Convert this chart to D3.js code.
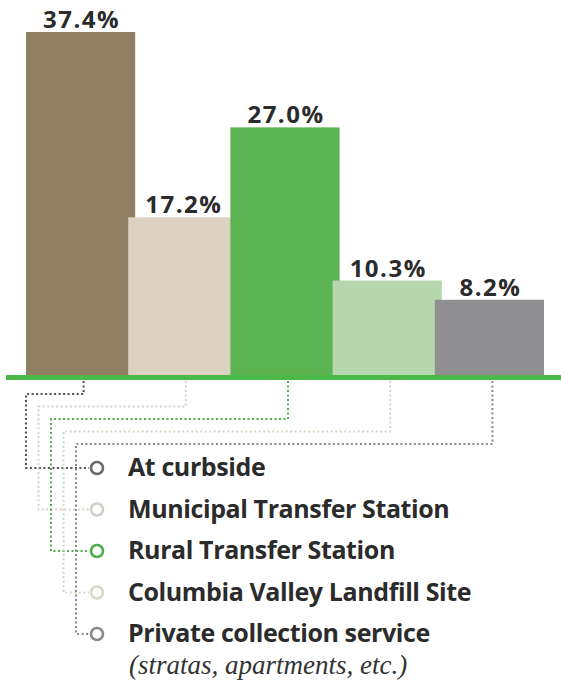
<!DOCTYPE html>
<html>
<head>
<meta charset="utf-8">
<script src="https://cdn.jsdelivr.net/npm/d3@7"></script>
<style>
  html, body { margin: 0; padding: 0; background: #ffffff; }
  svg { display: block; }
</style>
</head>
<body>
<svg id="chart" width="561" height="686"></svg>
<script>
// ---- data ----
const categories = ["At curbside", "Municipal Transfer Station", "Rural Transfer Station", "Columbia Valley Landfill Site", "Private collection service"];
const values = [37.4, 17.2, 27.0, 10.3, 8.2];
const valueLabels = ["37.4%", "17.2%", "27.0%", "10.3%", "8.2%"];
const noteText = "(stratas, apartments, etc.)";

// ---- styles ----
const barColors = ["#8f7f63", "#ddd1c0", "#5cb352", "#b6d6ae", "#8f8f91"];
const dotColors = ["#505050", "#d8d2c8", "#4cae48", "#c9dcc2", "#8a8a8a"];
const ringColors = ["#6a6a6a", "#d2cec6", "#4cae48", "#d3dcc6", "#8a8a8a"];

const svg = d3.select("#chart");
const W = 561;
const baseY = 375;

const x = d3.scaleBand().domain(categories).range([26, 537]).paddingInner(0).paddingOuter(0);
const barW = x.step() + 7;
const y = d3.scaleLinear().domain([0, 37.4]).range([baseY, 32]);

const data = categories.map((c, i) => ({ c, v: values[i], label: valueLabels[i], i }));

// connectors (dotted)
const levelY = d3.scaleLinear().domain([0, 4]).range([394, 444]);
const leftX = d3.scaleLinear().domain([0, 4]).range([26, 76]);
const rowY = d3.scaleLinear().domain([0, 4]).range([468, 634]);
const ringX = 97;

svg.append("g").selectAll("path").data(data).join("path")
  .attr("d", d => {
    const tx = x(d.c) + barW / 2 + 3;
    return `M${tx},381 V${levelY(d.i)} H${leftX(d.i)} V${rowY(d.i)} H${ringX - 8}`;
  })
  .attr("fill", "none")
  .attr("stroke", d => dotColors[d.i])
  .attr("stroke-width", 2)
  .attr("stroke-dasharray", "2,2.5");

// bars
svg.append("g").selectAll("rect").data(data).join("rect")
  .attr("x", d => x(d.c))
  .attr("y", d => y(d.v))
  .attr("width", barW)
  .attr("height", d => baseY - y(d.v))
  .attr("fill", d => barColors[d.i]);

// value labels
svg.append("g").selectAll("text").data(data).join("text")
  .attr("x", d => x(d.c) + barW / 2 + 1)
  .attr("y", d => y(d.v) - 4)
  .attr("text-anchor", "middle")
  .attr("font-family", "'Open Sans', sans-serif")
  .attr("font-weight", 700)
  .attr("font-size", 24)
  .attr("letter-spacing", 1.5)
  .attr("fill", "#2b2b2b")
  .text(d => d.label);

// baseline
svg.append("rect")
  .attr("x", 6).attr("y", baseY)
  .attr("width", W - 6).attr("height", 5)
  .attr("fill", "#4cb848");

// legend rings
svg.append("g").selectAll("circle").data(data).join("circle")
  .attr("cx", ringX)
  .attr("cy", d => rowY(d.i))
  .attr("r", 6)
  .attr("fill", "#ffffff")
  .attr("stroke", d => ringColors[d.i])
  .attr("stroke-width", 2.6);

// legend text
svg.append("g").selectAll("text").data(data).join("text")
  .attr("x", 128)
  .attr("y", d => rowY(d.i) + 8)
  .attr("font-family", "'Open Sans', sans-serif")
  .attr("font-weight", 700)
  .attr("font-size", 25)
  .attr("letter-spacing", -0.4)
  .attr("fill", "#2b2b2b")
  .text(d => d.c);

svg.append("text")
  .attr("x", 129)
  .attr("y", rowY(4) + 40)
  .attr("font-family", "'Liberation Serif', serif")
  .attr("font-style", "italic")
  .attr("font-size", 27)
  .attr("fill", "#333333")
  .text(noteText);
</script>
</body>
</html>
